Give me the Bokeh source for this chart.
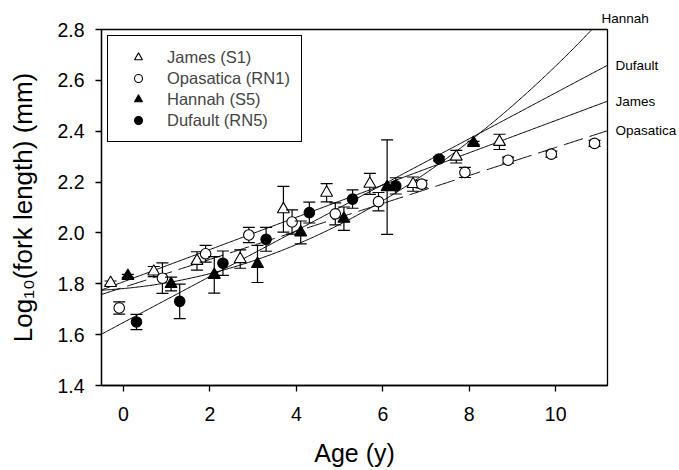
import numpy as np
from bokeh.plotting import figure
from bokeh.models import (Range1d, FixedTicker, PrintfTickFormatter, Legend, LegendItem,
                          LinearAxis, Title)
from bokeh.embed import file_html
from bokeh.resources import INLINE

# ---------------- data ----------------
x_ticks = [0, 2, 4, 6, 8, 10]
y_ticks = [1.4, 1.6, 1.8, 2.0, 2.2, 2.4, 2.6, 2.8]

james_x = [-0.3, 0.7, 1.7, 2.7, 3.7, 4.7, 5.7, 6.7, 7.7, 8.7]
james_y = [1.803, 1.848, 1.890, 1.897, 2.093, 2.158, 2.193, 2.192, 2.300, 2.358]
james_e = [0.008, 0.020, 0.036, 0.036, 0.090, 0.036, 0.041, 0.028, 0.025, 0.030]

opas_x = [-0.1, 0.9, 1.9, 2.9, 3.9, 4.9, 5.9, 6.9, 7.9, 8.9, 9.9, 10.9]
opas_y = [1.705, 1.822, 1.918, 1.992, 2.043, 2.075, 2.123, 2.192, 2.238, 2.286, 2.310, 2.352]
opas_e = [0.024, 0.060, 0.033, 0.030, 0.048, 0.043, 0.036, 0.015, 0.020, 0.012, 0.012, 0.012]

hann_x = [0.1, 1.1, 2.1, 3.1, 4.1, 5.1, 6.1, 8.1]
hann_y = [1.831, 1.799, 1.835, 1.878, 2.002, 2.056, 2.180, 2.354]
hann_e = [0.006, 0.027, 0.072, 0.073, 0.045, 0.046, 0.186, 0.006]

duf_x = [0.3, 1.3, 2.3, 3.3, 4.3, 5.3, 6.3, 7.3]
duf_y = [1.650, 1.731, 1.881, 1.975, 2.080, 2.133, 2.185, 2.291]
duf_e = [0.030, 0.068, 0.048, 0.047, 0.041, 0.036, 0.032, 0.008]

# fitted curves: polynomial coefficients (constant first)
james_fit = [1.808, 0.0634]
opas_fit = [1.786, 0.055]
duf_fit = [1.648, 0.0903]
hann_fit = [1.7813, 0.01586, 0.006647, 0.0000516]

curve_names = ["Dufault", "James", "Opasatica"]

XMIN, XMAX = -0.51, 11.2
YMIN, YMAX = 1.4, 2.8
FONT = "Liberation Sans"

p = figure(width=679, height=470, x_range=Range1d(XMIN, XMAX), y_range=Range1d(YMIN, YMAX),
           output_backend="svg", toolbar_location=None, title=None,
           min_border_left=101, min_border_right=70, min_border_top=29, min_border_bottom=85)
p.xgrid.visible = False
p.ygrid.visible = False
p.outline_line_color = "black"
p.outline_line_width = 1.3
p.outline_line_alpha = 1.0

for ax in (p.xaxis, p.yaxis):
    ax.major_tick_in = 0
    ax.major_tick_out = 6
    ax.minor_tick_line_color = None
    ax.axis_line_width = 1.3
    ax.major_tick_line_width = 1.3
    ax.axis_line_color = "black"
    ax.major_tick_line_color = "black"
    ax.major_label_text_font = FONT
    ax.major_label_text_font_size = "19.5px"
    ax.major_label_text_color = "black"
    ax.axis_label_text_font = FONT
    ax.axis_label_text_font_style = "normal"
    ax.axis_label_text_font_size = "25px"
    ax.axis_label_text_color = "black"
p.xaxis.ticker = FixedTicker(ticks=x_ticks)
p.yaxis.ticker = FixedTicker(ticks=y_ticks)
p.yaxis.formatter = PrintfTickFormatter(format="%.1f")
p.xaxis.major_label_standoff = 15
p.yaxis.major_label_standoff = 11
p.xaxis.axis_label = "Age (y)"
p.xaxis.axis_label_standoff = 15
p.yaxis.axis_label = "Log\u2081\u2080(fork length) (mm)"
p.yaxis.axis_label_text_font_size = "26px"
p.yaxis.axis_label_standoff = 16

# fitted curves
xs = np.linspace(XMIN, XMAX, 400)
def fit(c, x):
    return np.polyval(c[::-1], x)
p.line(xs, fit(james_fit, xs), line_color="black", line_width=1)
p.line(xs, fit(duf_fit, xs), line_color="black", line_width=1)
p.line(xs, fit(hann_fit, xs), line_color="black", line_width=1)
p.line(xs, fit(opas_fit, xs), line_color="black", line_width=1, line_dash="20 7")

# error bars + markers
def series(x, y, e, marker, size, fill):
    x = np.array(x); y = np.array(y); e = np.array(e)
    p.segment(x0=x, y0=y - e, x1=x, y1=y + e, line_color="black", line_width=1.2)
    p.scatter(np.concatenate([x, x]), np.concatenate([y - e, y + e]), marker="dash",
              size=12, line_color="black", line_width=1.2)
    return p.scatter(x, y, marker=marker, size=size, fill_color=fill,
                     line_color="black", line_width=1.1)

r_j = series(james_x, james_y, james_e, "triangle", 12, "white")
r_o = series(opas_x, opas_y, opas_e, "circle", 10.5, "white")
r_h = series(hann_x, hann_y, hann_e, "triangle", 12, "black")
r_d = series(duf_x, duf_y, duf_e, "circle", 10.5, "black")

legend = Legend(items=[LegendItem(label="James (S1)", renderers=[r_j]),
                       LegendItem(label="Opasatica (RN1)", renderers=[r_o]),
                       LegendItem(label="Hannah (S5)", renderers=[r_h]),
                       LegendItem(label="Dufault (RN5)", renderers=[r_d])],
                location="top_left", margin=6, padding=11, spacing=1,
                glyph_width=38, glyph_height=20, label_height=20, label_standoff=10,
                label_text_font=FONT, label_text_font_size="16.5px",
                border_line_color="black", border_line_width=1.3, border_line_alpha=1.0,
                background_fill_alpha=1.0)
p.add_layout(legend)

# right-hand curve labels via a secondary axis at the curve ends
end_vals = [round(float(fit(c, XMAX)), 4) for c in (duf_fit, james_fit, opas_fit)]
raxis = LinearAxis(ticker=FixedTicker(ticks=end_vals),
                   major_label_overrides={v: n for v, n in zip(end_vals, curve_names)})
raxis.axis_line_color = None
raxis.major_tick_line_color = None
raxis.minor_tick_line_color = None
raxis.major_tick_in = 0
raxis.major_tick_out = 0
raxis.major_label_standoff = 8
raxis.major_label_text_font = FONT
raxis.major_label_text_font_size = "13.5px"
raxis.major_label_text_color = "black"
p.add_layout(raxis, "right")

# "Hannah" label above the frame (its curve leaves through the top)
p.add_layout(Title(text="Hannah", align="left", offset=500, standoff=7,
                   text_font=FONT, text_font_size="13.5px", text_font_style="normal",
                   text_color="black"), "above")

open("out.html", "w").write(file_html(p, INLINE))
